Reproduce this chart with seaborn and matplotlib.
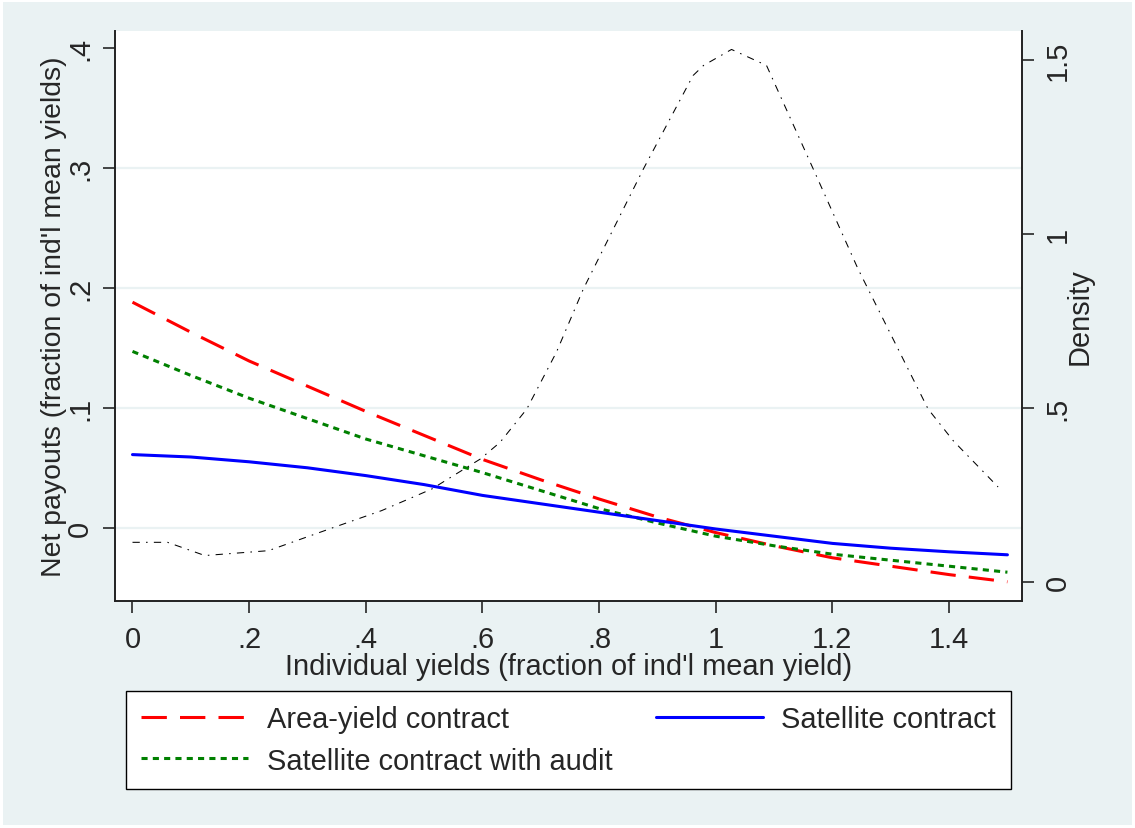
import numpy as np
import pandas as pd
import matplotlib
matplotlib.use("Agg")
import matplotlib.pyplot as plt
import seaborn as sns

# individual yields (fraction of individual mean yield)
yield_x = [0.0, 0.1, 0.2, 0.3, 0.4, 0.5, 0.6, 0.7, 0.8, 0.9, 1.0, 1.1, 1.2, 1.3, 1.4, 1.5]
area_yield = [0.188, 0.163, 0.139, 0.118, 0.097, 0.077, 0.057, 0.040, 0.024, 0.009,
              -0.004, -0.015, -0.025, -0.032, -0.039, -0.045]
sat_audit = [0.147, 0.127, 0.108, 0.091, 0.074, 0.060, 0.046, 0.031, 0.016, 0.004,
             -0.007, -0.015, -0.022, -0.027, -0.032, -0.037]
satellite = [0.061, 0.059, 0.055, 0.050, 0.0435, 0.036, 0.027, 0.020, 0.013, 0.006,
             -0.001, -0.007, -0.013, -0.017, -0.020, -0.0225]

# kernel density of individual yields (right axis)
dens_x = [0.0, 0.06, 0.124, 0.233, 0.347, 0.427, 0.513, 0.596, 0.63, 0.676, 0.727,
          0.773, 0.876, 0.961, 0.979, 1.027, 1.087, 1.167, 1.244, 1.364, 1.407, 1.484]
dens_y = [0.114, 0.114, 0.076, 0.090, 0.158, 0.205, 0.267, 0.353, 0.401, 0.497, 0.661,
          0.842, 1.187, 1.455, 1.484, 1.53, 1.484, 1.187, 0.899, 0.497, 0.406, 0.273]

x_ticks = [0, 0.2, 0.4, 0.6, 0.8, 1.0, 1.2, 1.4]
x_labels = ['0', '.2', '.4', '.6', '.8', '1', '1.2', '1.4']
left_ticks = [0, 0.1, 0.2, 0.3, 0.4]
left_labels = ['0', '.1', '.2', '.3', '.4']
right_ticks = [0, 0.5, 1.0, 1.5]
right_labels = ['0', '.5', '1', '1.5']
grid_levels = [0, 0.1, 0.2, 0.3]

bg = '#eaf2f3'
sns.set_style('white')
plt.rcParams['font.family'] = ['Liberation Sans', 'DejaVu Sans']
fs = 20.9

df = pd.DataFrame({'x': yield_x, 'area': area_yield, 'audit': sat_audit, 'sat': satellite})
dens = pd.DataFrame({'x': dens_x, 'd': dens_y})

fig = plt.figure(figsize=(11.35, 8.29), dpi=100, facecolor=bg)
fig.patch.set_edgecolor('white')
fig.patch.set_linewidth(3)
ax = fig.add_axes([115 / 1135, 1 - 602 / 829, 907 / 1135, 570 / 829])
ax.set_facecolor('white')

for g in grid_levels:
    ax.axhline(g, color=bg, lw=1.6, zorder=0)

sns.lineplot(data=df, x='x', y='area', ax=ax, color='#ff0000', lw=2.2,
             linestyle=(0, (8.3, 4.3)), label='Area-yield contract', legend=False)
sns.lineplot(data=df, x='x', y='audit', ax=ax, color='#008000', lw=2.2,
             linestyle=(0, (2.0, 1.7)), label='Satellite contract with audit', legend=False)
sns.lineplot(data=df, x='x', y='sat', ax=ax, color='#0000ff', lw=2.2,
             label='Satellite contract', legend=False)

ax.set_xlim(-0.030, 1.525)
ax.set_ylim(-0.061, 0.414)
ax.set_xticks(x_ticks, x_labels)
ax.set_yticks(left_ticks, left_labels)
ax.tick_params(axis='x', length=8.6, width=1.2, pad=8.5, labelsize=fs, direction='out', bottom=True)
ax.tick_params(axis='y', length=8.6, width=1.2, pad=6.5, labelsize=fs, direction='out',
               left=True, labelrotation=90)
for lab in ax.get_yticklabels():
    lab.set_va('center')
ax.set_xlabel("Individual yields (fraction of ind'l mean yield)", fontsize=fs)
ax.set_ylabel("Net payouts (fraction of ind'l mean yields)", fontsize=20.4)
ax.xaxis.set_label_coords(0.5, -0.09)
ax.yaxis.set_label_coords(-0.0533, 0.5)
for s in ['top', 'right']:
    ax.spines[s].set_visible(False)
for s in ['left', 'bottom']:
    ax.spines[s].set_color('#222222')
    ax.spines[s].set_linewidth(1.4)

ax2 = ax.twinx()
sns.lineplot(data=dens, x='x', y='d', ax=ax2, color='black', lw=0.75,
             linestyle=(0, (7, 6, 1.5, 6)), legend=False)
ax2.set_ylim(-0.0546, 1.583)
ax2.set_yticks(right_ticks, right_labels)
ax2.tick_params(axis='y', length=8.6, width=1.2, pad=7, labelsize=fs, direction='out',
                right=True, labelrotation=90)
for lab in ax2.get_yticklabels():
    lab.set_va('center')
ax2.set_ylabel('Density', fontsize=fs)
ax2.yaxis.set_label_coords(1.0485, 0.5)
for s in ['top', 'left', 'bottom']:
    ax2.spines[s].set_visible(False)
ax2.spines['right'].set_color('#222222')
ax2.spines['right'].set_linewidth(1.4)

handles, labels = ax.get_legend_handles_labels()
leg = fig.legend(handles, labels, ncol=2, loc='center',
                 bbox_to_anchor=(568.5 / 1135, 1 - 741 / 829),
                 fontsize=fs, frameon=True, fancybox=False, framealpha=1,
                 edgecolor='black', handlelength=3.7, handletextpad=0.63,
                 columnspacing=1.5, labelspacing=0.45, borderpad=0.5)
leg.get_frame().set_linewidth(1.0)

fig.savefig('out.png', dpi=100, facecolor=bg)
